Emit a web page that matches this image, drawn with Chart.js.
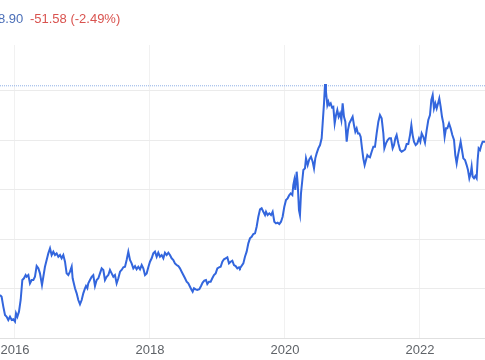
<!DOCTYPE html>
<html>
<head>
<meta charset="utf-8">
<script src="https://cdn.jsdelivr.net/npm/chart.js@4/dist/chart.umd.min.js"></script>
<style>
  html, body { margin: 0; padding: 0; background: #ffffff; overflow: hidden; }
  #wrap { position: relative; width: 485px; height: 360px; }
  #hdr { position: absolute; left: -2px; top: 11px; font-family: "Liberation Sans", Arial, sans-serif; font-size: 13px; white-space: nowrap; }
  #price { color: #4b6fb8; }
  #chg { color: #d9534f; margin-left: 3px; }
  canvas { position: absolute; left: 0; top: 0; }
</style>
</head>
<body>
<div id="wrap">
  <canvas id="c" width="485" height="360"></canvas>
  <div id="hdr"><span id="price">8.90</span> <span id="chg">-51.58 (-2.49%)</span></div>
</div>
<script>
const years = [
  2015.778, 2015.802, 2015.827, 2015.852, 2015.877, 2015.901, 2015.926, 2015.951, 2015.975, 2016.000,
  2016.015, 2016.035, 2016.059, 2016.084, 2016.109, 2016.133, 2016.158, 2016.173, 2016.198, 2016.222,
  2016.247, 2016.272, 2016.296, 2016.321, 2016.346, 2016.370, 2016.400, 2016.420, 2016.444, 2016.469,
  2016.494, 2016.519, 2016.543, 2016.568, 2016.593, 2016.617, 2016.642, 2016.667, 2016.691, 2016.716,
  2016.741, 2016.765, 2016.790, 2016.815, 2016.840, 2016.854, 2016.889, 2016.914, 2016.938, 2016.963,
  2016.988, 2017.012, 2017.037, 2017.052, 2017.072, 2017.086, 2017.111, 2017.136, 2017.160, 2017.185,
  2017.210, 2017.235, 2017.259, 2017.284, 2017.309, 2017.333, 2017.358, 2017.383, 2017.407, 2017.432,
  2017.457, 2017.481, 2017.506, 2017.531, 2017.556, 2017.580, 2017.605, 2017.630, 2017.654, 2017.679,
  2017.704, 2017.728, 2017.753, 2017.778, 2017.802, 2017.827, 2017.852, 2017.877, 2017.901, 2017.926,
  2017.951, 2017.975, 2018.000, 2018.025, 2018.049, 2018.074, 2018.099, 2018.123, 2018.148, 2018.173,
  2018.198, 2018.222, 2018.247, 2018.272, 2018.296, 2018.321, 2018.346, 2018.370, 2018.395, 2018.420,
  2018.444, 2018.469, 2018.494, 2018.519, 2018.543, 2018.568, 2018.593, 2018.617, 2018.632, 2018.652,
  2018.677, 2018.701, 2018.731, 2018.756, 2018.780, 2018.805, 2018.830, 2018.849, 2018.874, 2018.899,
  2018.923, 2018.948, 2018.973, 2018.998, 2019.022, 2019.047, 2019.072, 2019.096, 2019.121, 2019.146,
  2019.170, 2019.195, 2019.220, 2019.244, 2019.269, 2019.294, 2019.319,
  2019.333, 2019.383, 2019.407, 2019.432, 2019.457, 2019.481, 2019.506, 2019.531, 2019.556, 2019.580,
  2019.605, 2019.630, 2019.654, 2019.679, 2019.704, 2019.719, 2019.743, 2019.768, 2019.793, 2019.817,
  2019.842, 2019.867, 2019.891, 2019.916, 2019.941, 2019.965, 2019.990, 2020.015, 2020.039, 2020.064,
  2020.084, 2020.109, 2020.123, 2020.138, 2020.153, 2020.173, 2020.188, 2020.207, 2020.222, 2020.237,
  2020.257, 2020.272, 2020.296, 2020.311, 2020.336, 2020.360, 2020.385, 2020.410, 2020.430, 2020.449,
  2020.469, 2020.494, 2020.519, 2020.543, 2020.558, 2020.578, 2020.593, 2020.607, 2020.627, 2020.642,
  2020.657, 2020.677, 2020.696, 2020.716, 2020.736, 2020.756, 2020.775, 2020.795, 2020.815, 2020.835,
  2020.854, 2020.874, 2020.894, 2020.914, 2020.933, 2020.953, 2020.978, 2021.002, 2021.022, 2021.042,
  2021.062, 2021.081, 2021.101, 2021.121, 2021.141, 2021.160, 2021.180, 2021.200, 2021.220, 2021.240,
  2021.259, 2021.284, 2021.309, 2021.333, 2021.358, 2021.383, 2021.407, 2021.432, 2021.457, 2021.472,
  2021.496, 2021.521, 2021.546, 2021.570, 2021.595, 2021.615, 2021.635, 2021.654, 2021.679, 2021.704,
  2021.728, 2021.753, 2021.778, 2021.802, 2021.827, 2021.852, 2021.872, 2021.891, 2021.911, 2021.936,
  2021.960, 2021.985, 2022.005, 2022.025, 2022.049, 2022.074, 2022.099, 2022.123, 2022.148, 2022.168,
  2022.188, 2022.207, 2022.227, 2022.247, 2022.267, 2022.286, 2022.306, 2022.326, 2022.346, 2022.365,
  2022.385, 2022.405, 2022.430, 2022.454, 2022.479, 2022.504, 2022.523, 2022.543, 2022.563, 2022.583,
  2022.602, 2022.622, 2022.642, 2022.667, 2022.691, 2022.711, 2022.731, 2022.751, 2022.765, 2022.780,
  2022.800, 2022.820, 2022.839, 2022.854, 2022.869, 2022.889, 2022.909, 2022.928, 2022.963
];
const prices = [
  434, 417, 317, 232, 215, 182, 215, 182, 189, 165,
  249, 215, 266, 384, 586, 603, 636, 619, 636, 552,
  586, 586, 619, 727, 704, 653, 535, 619, 720, 788,
  855, 906, 838, 872, 838, 855, 821, 838, 805, 838,
  771, 653, 636, 670, 720, 603, 502, 451, 384, 340,
  384, 451, 502, 525, 502, 552, 586, 619, 636, 525,
  586, 603, 653, 704, 687, 586, 619, 636, 687, 653,
  619, 636, 552, 603, 670, 687, 714, 720, 788, 872,
  788, 754, 704, 727, 694, 720, 694, 737, 704, 636,
  653, 714, 771, 805, 855, 872, 821, 862, 821, 838,
  805, 862, 838, 862, 838, 805, 788, 754, 737, 727,
  704, 670, 636, 603, 569, 552, 518, 485, 468, 502,
  492, 485, 492, 525, 559, 579, 586, 545, 569, 569,
  603, 636, 653, 704, 714, 720, 771, 795, 805, 815,
  754, 771, 781, 737, 727, 704, 714,
  704, 754, 821, 872, 956, 1007, 1023, 1050, 1057, 1124,
  1225, 1299, 1310, 1276, 1242, 1276, 1242, 1259, 1242, 1276,
  1175, 1158, 1165, 1151, 1175, 1225, 1326, 1394, 1411, 1444,
  1461, 1444, 1545, 1596, 1495, 1680, 1562, 1293, 1242, 1461,
  1596, 1697, 1714, 1815, 1747, 1805, 1831, 1781, 1714, 1815,
  1865, 1916, 1949, 2017, 2168, 2370, 2565, 2488, 2353, 2387,
  2353, 2370, 2330, 2336, 2168, 2252, 2303, 2235, 2269, 2202,
  2370, 2235, 2185, 1983, 2101, 2168, 2202, 2235, 2151, 2084,
  2118, 2067, 2067, 2033, 1916, 1815, 1747, 1798, 1848, 1831,
  1825, 1882, 1932, 1932, 2067, 2185, 2252, 2219, 2067, 1916,
  1966, 2000, 2017, 2017, 1916, 1949, 2017, 2050, 1966, 1899,
  1882, 1892, 1905, 1959, 1959, 2050, 2151, 2050, 1983, 1949,
  1966, 2017, 1983, 2067, 2033, 1973, 2101, 2202, 2252, 2404,
  2454, 2320, 2370, 2320, 2370, 2421, 2336, 2235, 2168, 2033,
  2118, 2118, 2168, 2118, 2050, 2000, 1848, 1764, 1848, 1916,
  1983, 1899, 1815, 1798, 1747, 1697, 1613, 1663, 1731, 1630,
  1613, 1636, 1613, 1798, 1916, 1899, 1949, 1983, 1983
];
const xTickYears = [2016, 2018, 2020, 2022];
const xTickLabels = ['2016', '2018', '2020', '2022'];
const yGridLevels = [0, 500, 1000, 1500, 2000, 2500];
const referenceLevel = 2548;

const xMin = years[0];
const xMax = years[years.length - 1];

new Chart(document.getElementById('c'), {
  type: 'line',
  data: {
    datasets: [
      {
        data: years.map((y, i) => ({ x: y, y: prices[i] })),
        borderColor: '#3366dd',
        borderWidth: 2,
        pointRadius: 0,
        tension: 0,
        fill: false
      },
      {
        data: [{ x: xMin, y: referenceLevel }, { x: xMax, y: referenceLevel }],
        borderColor: '#8fb0e6',
        borderWidth: 1,
        borderDash: [1, 1],
        pointRadius: 0,
        fill: false
      }
    ]
  },
  options: {
    responsive: false,
    animation: false,
    devicePixelRatio: 1,
    layout: { padding: { top: 45, bottom: 1, left: 0, right: 0 } },
    plugins: { legend: { display: false }, tooltip: { enabled: false } },
    scales: {
      x: {
        type: 'linear',
        min: xMin,
        max: xMax,
        afterBuildTicks: (s) => { s.ticks = xTickYears.map(v => ({ value: v })); },
        afterFit: (s) => { s.paddingLeft = 0; s.paddingRight = 0; s.height = 21; },
        ticks: {
          callback: (v) => xTickLabels[xTickYears.indexOf(v)] ?? '',
          color: '#5f6368',
          font: { family: 'Liberation Sans, Arial, sans-serif', size: 13 },
          padding: 5,
          maxRotation: 0,
          autoSkip: false
        },
        grid: { color: '#f1f1f1', drawTicks: false, lineWidth: 1 },
        border: { display: true, color: '#e0e0e0' }
      },
      y: {
        min: 0,
        max: 2960,
        afterBuildTicks: (s) => { s.ticks = yGridLevels.map(v => ({ value: v })); },
        afterFit: (s) => { s.width = 0; },
        ticks: { display: false },
        grid: { color: '#ebebeb', drawTicks: false, lineWidth: 1 },
        border: { display: false }
      }
    }
  }
});
</script>
</body>
</html>
